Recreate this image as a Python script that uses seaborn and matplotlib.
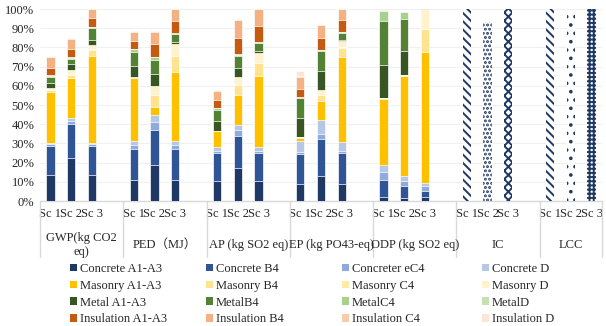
import numpy as np
import pandas as pd
import matplotlib
matplotlib.use("Agg")
import matplotlib.pyplot as plt
from matplotlib.patches import Patch
from matplotlib.transforms import blended_transform_factory
import seaborn as sns

# ---------------- data ----------------
groups = ["GWP(kg CO2\neq)", "PED（MJ）", "AP (kg SO2 eq)", "EP (kg PO43-eq)",
          "ODP (kg SO2 eq)", "IC", "LCC"]
scenarios = ["Sc 1", "Sc 2", "Sc 3"]
stacked_groups = groups[:5]

series_names = ["Concrete A1-A3", "Concrete B4", "Concreter eC4", "Concrete D",
                "Masonry A1-A3", "Masonry B4", "Masonry C4", "Masonry D",
                "Metal A1-A3", "MetalB4", "MetalC4", "MetalD",
                "Insulation A1-A3", "Insulation B4", "Insulation C4", "Insulation D"]

# values in %, order: GWP Sc1..3, PED Sc1..3, AP Sc1..3, EP Sc1..3, ODP Sc1..3
concrete_a1a3 = [13.6, 22.3, 13.6, 11.0, 18.6, 11.0, 10.6, 17.4, 10.6, 8.9, 13.2, 8.9, 1.9, 1.4, 1.9]
concrete_b4 = [15.1, 17.9, 15.1, 16.0, 18.4, 16.0, 14.3, 16.5, 14.3, 15.6, 19.1, 16.0, 9.1, 6.6, 3.5]
concrete_c4 = [1.0, 1.7, 0.8, 2.4, 4.0, 2.0, 1.4, 3.1, 1.4, 1.2, 2.4, 1.0, 4.0, 2.4, 2.6]
concrete_d = [0.7, 1.2, 0.8, 1.9, 3.8, 2.0, 1.7, 2.6, 1.7, 5.6, 7.5, 5.0, 3.5, 2.8, 1.6]
masonry_a1a3 = [26.6, 21.2, 45.4, 32.7, 4.0, 36.1, 8.2, 15.7, 37.2, 1.7, 9.9, 44.3, 34.8, 52.0, 67.8]
masonry_b4 = [1.0, 1.5, 3.1, 0.2, 6.2, 8.2, 0.2, 5.2, 6.6, 0.1, 3.1, 4.7, 0.1, 0.1, 12.2]
masonry_c4 = [0.4, 0.5, 0.5, 0.1, 0.3, 0.3, 0.1, 0.3, 0.3, 0.1, 0.2, 0.2, 0.1, 0.1, 0.2]
masonry_d = [0.4, 1.8, 1.7, 0.1, 4.7, 6.1, 0.1, 3.8, 4.9, 0.1, 2.6, 3.1, 0.1, 0.1, 9.6]
metal_a1a3 = [2.8, 3.1, 2.6, 5.7, 5.9, 1.2, 4.9, 4.9, 0.9, 9.7, 9.7, 0.9, 17.4, 12.7, 0.1]
metal_b4 = [3.1, 3.0, 6.4, 7.3, 7.3, 4.0, 6.1, 6.1, 4.3, 10.4, 10.4, 3.5, 23.0, 16.5, 0.5]
metal_c4 = [0.6, 0.5, 0.5, 1.7, 1.7, 0.3, 0.6, 0.6, 0.3, 0.5, 0.4, 0.3, 5.2, 3.5, 0.0]
metal_d = [0.2, 0.2, 0.1, 0.3, 0.3, 0.1, 0.2, 0.2, 0.1, 0.2, 0.1, 0.1, 0.2, 0.1, 0.0]
insulation_a1a3 = [4.0, 4.5, 4.9, 3.8, 6.6, 6.6, 4.0, 8.7, 8.7, 4.0, 6.4, 6.1, 0.1, 0.1, 0.0]
insulation_b4 = [5.4, 5.0, 4.4, 4.9, 6.4, 6.0, 4.9, 9.2, 8.6, 6.6, 6.6, 5.8, 0.1, 0.1, 0.0]
insulation_c4 = [0.3, 0.3, 0.1, 0.3, 0.2, 0.1, 0.3, 0.2, 0.1, 0.2, 0.2, 0.1, 0.0, 0.0, 0.0]
insulation_d = [0.1, 0.1, 0.0, 0.2, 0.1, 0.0, 0.1, 0.1, 0.0, 3.0, 0.1, 0.0, 0.0, 0.0, 0.0]

ic_values = [100.0, 93.2, 100.0]
lcc_values = [100.0, 98.4, 100.0]

y_ticks = [0, 10, 20, 30, 40, 50, 60, 70, 80, 90, 100]

series_values = [concrete_a1a3, concrete_b4, concrete_c4, concrete_d,
                 masonry_a1a3, masonry_b4, masonry_c4, masonry_d,
                 metal_a1a3, metal_b4, metal_c4, metal_d,
                 insulation_a1a3, insulation_b4, insulation_c4, insulation_d]

colors = ["#1F3864", "#2F5597", "#8FAADC", "#B4C7E7",
          "#FFC000", "#FFE38F", "#FFEAA8", "#FFF2CC",
          "#375623", "#548235", "#A9D18E", "#C5E0B4",
          "#C55A11", "#F4B183", "#F8CBAD", "#FBE5D6"]
navy = "#1F3864"
hatches_ic = ["\\\\\\\\", "....", "xxxx"]
hatches_lcc = ["\\\\\\\\", "..", "++++"]

# ---------------- style ----------------
sns.set_style("white")
plt.rcParams["font.family"] = ["Liberation Serif", "Noto Sans CJK SC"]
plt.rcParams["hatch.linewidth"] = 1.4

W, H = 606, 326
fig = plt.figure(figsize=(W / 100, H / 100), dpi=100)
ax = fig.add_axes([40 / W, 1 - 201 / H, 562 / W, 192 / H])

# slot layout: 3 bars per group + a blank slot between groups
slot_order = []
slot_labels = []
for gi, g in enumerate(groups):
    for s in scenarios:
        slot_order.append(f"{gi}|{s}")
        slot_labels.append(s)
    if gi < len(groups) - 1:
        slot_order.append(f"blank{gi}")
        slot_labels.append("")

stacked_slots = [f"{gi}|{s}" for gi in range(len(stacked_groups)) for s in scenarios]
stack = np.array(series_values)
cum = np.cumsum(stack, axis=0)

for k in reversed(range(len(series_names))):
    df = pd.DataFrame({"slot": stacked_slots, "value": cum[k]})
    sns.barplot(data=df, x="slot", y="value", order=slot_order, color=colors[k],
                saturation=1, width=0.4, edgecolor="white", linewidth=0.5,
                errorbar=None, ax=ax)

# hatched IC / LCC bars
hatch_slots = [f"5|{s}" for s in scenarios] + [f"6|{s}" for s in scenarios]
hatch_vals = ic_values + lcc_values
hatch_map = {slot_order.index(sl): h for sl, h in zip(hatch_slots, hatches_ic + hatches_lcc)}
n_before = len(ax.patches)
sns.barplot(x=hatch_slots, y=hatch_vals, order=slot_order, color="white",
            saturation=1, width=0.4, edgecolor=navy, linewidth=0,
            errorbar=None, ax=ax)
for p in ax.patches[n_before:]:
    idx = int(round(p.get_x() + p.get_width() / 2))
    if idx in hatch_map:
        p.set_hatch(hatch_map[idx])
        p.set_edgecolor(navy)
        p.set_facecolor("white")

# axes styling
ax.set_ylim(0, 100)
ax.set_xlim(-0.5, len(slot_order) - 0.5)
ax.set_yticks(y_ticks)
ax.set_yticklabels([f"{t}%" for t in y_ticks])
ax.set_xticks(range(len(slot_order)))
ax.set_xticklabels(slot_labels)
ax.set_xlabel("")
ax.set_ylabel("")
for sp in ax.spines.values():
    sp.set_visible(False)
ax.set_axisbelow(True)
ax.yaxis.grid(True, color="#f0f0f0", linewidth=0.8)
ax.tick_params(axis="both", length=0, labelsize=9)
ax.tick_params(axis="y", pad=4)
ax.tick_params(axis="x", pad=5)
ax.axhline(0, color="#d9d9d9", linewidth=1.0, clip_on=False, zorder=0.5)

trans = blended_transform_factory(ax.transData, ax.transAxes)
# separators between groups
bounds = [-0.5] + [4 * k + 3.5 for k in range(len(groups) - 1)] + [len(slot_order) - 0.5]
for b in bounds:
    ax.plot([b, b], [0, -56 / 192], transform=trans, color="#d9d9d9",
            linewidth=1.0, clip_on=False)
# group labels
for gi, g in enumerate(groups):
    left = 4 * gi - 0.5
    right = min(4 * gi + 3.5, len(slot_order) - 0.5)
    ax.text((left + right) / 2, -44 / 192, g, transform=trans, ha="center",
            va="center", fontsize=9, linespacing=1.25)

# legend: 4 columns, row-major order
handles = [Patch(facecolor=c, edgecolor="none", label=n) for c, n in zip(colors, series_names)]
col_x = [70, 206, 342, 482]
for c in range(4):
    hs = [handles[r * 4 + c] for r in range(4)]
    leg = fig.legend(handles=hs, loc="upper left",
                     bbox_to_anchor=(col_x[c] / W, 1 - 263 / H),
                     frameon=False, fontsize=9, handlelength=0.55,
                     handleheight=0.55, handletextpad=0.25, labelspacing=0.38,
                     borderpad=0, borderaxespad=0)

fig.savefig("out.png", dpi=100)
